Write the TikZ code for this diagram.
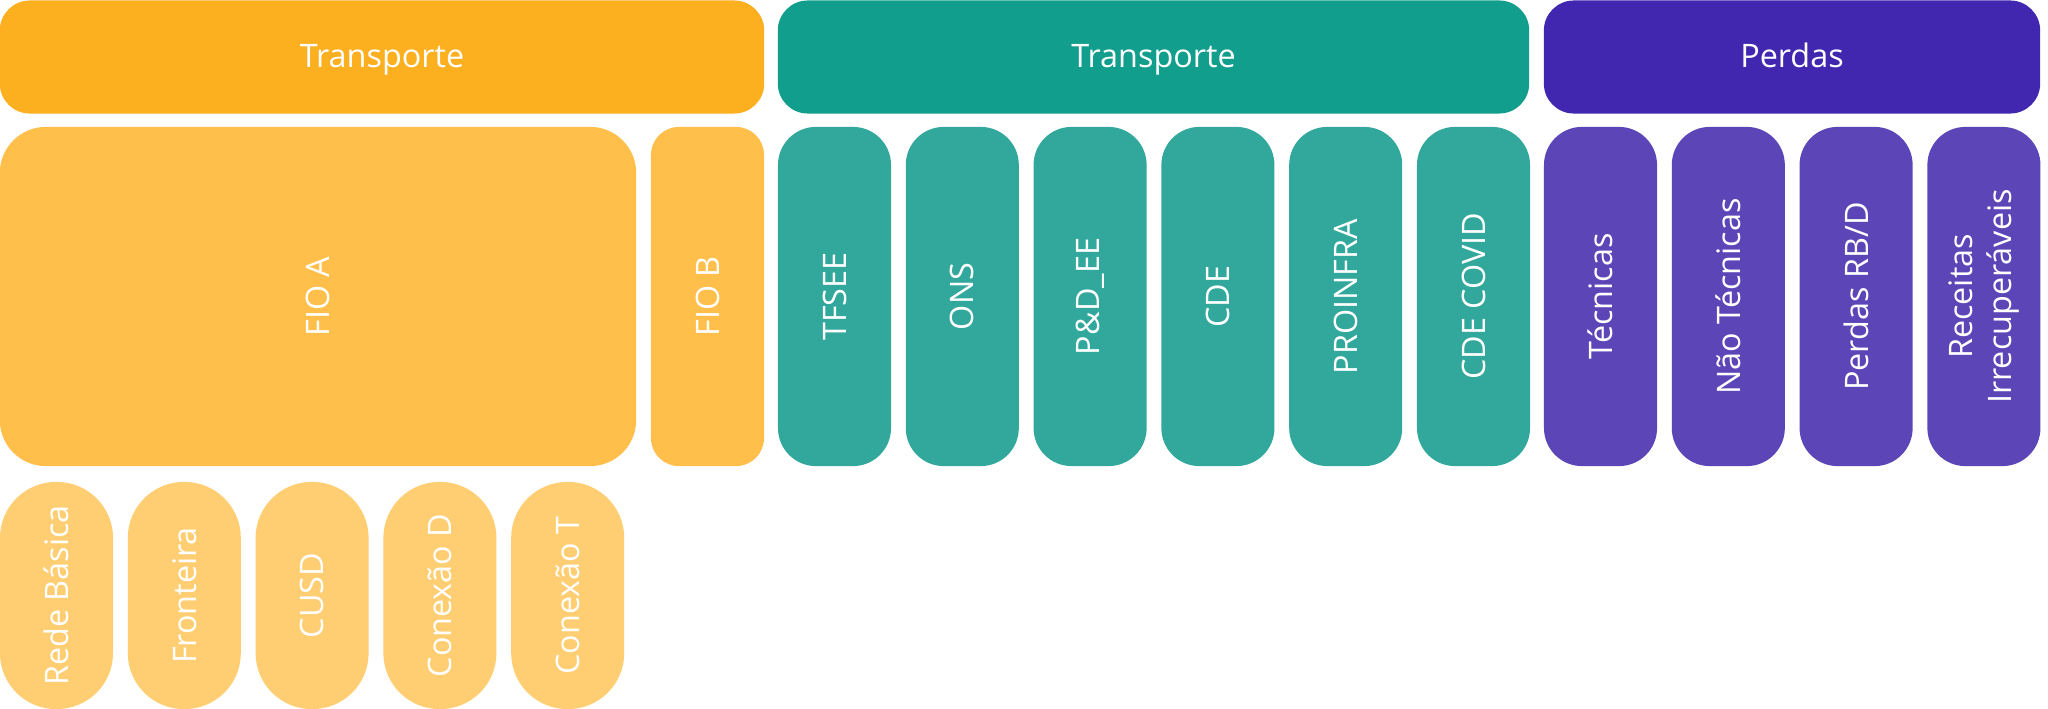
\documentclass[tikz,border=0pt]{standalone}
\usepackage{fontspec}
\setmainfont{Open Sans}

\definecolor{orangeTop}{RGB}{252,175,31}
\definecolor{orangeMid}{RGB}{255,191,74}
\definecolor{orangeLow}{RGB}{255,206,115}
\definecolor{tealTop}{RGB}{18,158,140}
\definecolor{tealMid}{RGB}{50,168,156}
\definecolor{purpleTop}{RGB}{65,39,175}
\definecolor{purpleMid}{RGB}{92,69,183}

\tikzset{
  bar/.style={rounded corners=0.3cm, minimum height=1.13cm, inner sep=0pt,
    text=white, text height=1.6ex, text depth=0.5ex,
    font=\fontsize{9.2}{11}\selectfont},
  col/.style={rotate=90, rounded corners=0.38cm, minimum width=3.39cm,
    minimum height=1.13cm, inner sep=0pt, text=white, align=center,
    font=\fontsize{9.2}{11}\selectfont},
  pill/.style={col, rounded corners=0.56cm, minimum width=2.27cm}
}

\begin{document}
\begin{tikzpicture}[x=0.01cm,y=-0.01cm]
\useasboundingbox (0,0) rectangle (2048,709);

% top row
\node[bar, fill=orangeTop, minimum width=7.64cm] (transpA) at (382,57) {Transporte};
\node[bar, fill=tealTop, minimum width=7.51cm] (transpB) at (1153.5,57) {Transporte};
\node[bar, fill=purpleTop, minimum width=4.96cm] (perdas) at (1792,57) {Perdas};

% fio
\node[col, fill=orangeMid, minimum height=6.36cm, rounded corners=0.46cm] (fioA) at (318,296.5) {FIO A};
\node[col, fill=orangeMid, rounded corners=0.28cm] (fioB) at (707.5,296.5) {FIO B};

% encargos
\foreach \name/\txt [count=\i from 0] in {tfsee/TFSEE, ons/ONS, ped/P\&D\_EE, cde/CDE, proinfra/PROINFRA, covid/CDE COVID}
  \node[col, fill=tealMid] (\name) at ({834.5+127.8*\i},296.5) {\txt};

% perdas
\foreach \name/\txt [count=\i from 0] in {tecnicas/Técnicas, naotec/Não Técnicas, rbd/{Perdas RB/D}, irrec/{Receitas\\Irrecuperáveis}}
  \node[col, fill=purpleMid] (\name) at ({1600.5+127.8*\i},296.5) {\txt};

% componentes do fio A
\foreach \name/\txt [count=\i from 0] in {rede/Rede Básica, fronteira/Fronteira, cusd/CUSD, conD/Conexão D, conT/Conexão T}
  \node[pill, fill=orangeLow] (\name) at ({56.5+127.8*\i},595.5) {\txt};
\end{tikzpicture}
\end{document}
